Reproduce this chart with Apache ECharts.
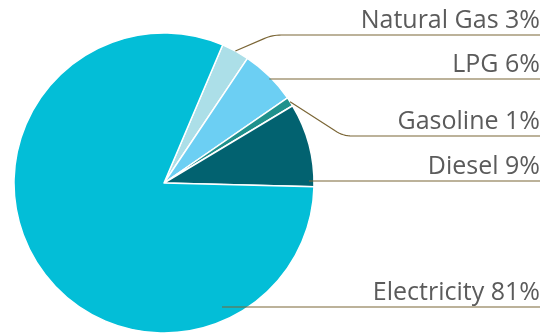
<!DOCTYPE html>
<html>
<head>
<meta charset="utf-8">
<script src="https://cdn.jsdelivr.net/npm/echarts@6/dist/echarts.min.js"></script>
<style>
  html, body { margin: 0; padding: 0; background: #ffffff; }
  #chart { width: 549px; height: 333px; }
</style>
</head>
<body>
<div id="chart"></div>
<script>
// Energy sources, share of total (%)
const categories = ['Natural Gas', 'LPG', 'Gasoline', 'Diesel', 'Electricity'];
const shares = [3, 6, 1, 9, 81];
const sliceColors = ['#acdfe8', '#6ccff3', '#1f918c', '#026270', '#03bed7'];

// Label placement: height of each leader rule, horizontal run of the
// diagonal part (0 = straight rule), right edge of text and rules
const leaderY = [35, 79, 136, 181, 307];
const leaderRun = [37, 0, 53, 0, 0];
const labelRight = 540;
const pieCenter = [164, 183];
const pieRadius = 150;

const chart = echarts.init(document.getElementById('chart'), null, { renderer: 'canvas' });

const sliceData = categories.map((name, i) => ({
  name: name,
  value: shares[i],
  itemStyle: { color: sliceColors[i] }
}));

// same values again, carrying the labels above the filled slices
const labelData = categories.map((name, i) => ({ name: name, value: shares[i] }));

// diagonal leader meeting the horizontal rule with a rounded elbow
function bentLeader(p0, y, run) {
  const c = [p0[0] + run, y];
  const len = Math.hypot(c[0] - p0[0], c[1] - p0[1]);
  const r = 9;
  const a = [c[0] - (c[0] - p0[0]) * r / len, c[1] - (c[1] - p0[1]) * r / len];
  const b = [c[0] + r, y];
  const pts = [[p0[0], p0[1]]];
  for (let k = 0; k <= 8; k++) {
    const t = k / 8, u = 1 - t;
    pts.push([
      u * u * a[0] + 2 * u * t * c[0] + t * t * b[0],
      u * u * a[1] + 2 * u * t * c[1] + t * t * b[1]
    ]);
  }
  pts.push([labelRight, y]);
  return pts;
}

function layoutLabel(params) {
  const i = params.dataIndex;
  const y = leaderY[i];
  const p0 = params.labelLinePoints ? params.labelLinePoints[0] : [pieCenter[0], pieCenter[1]];
  let pts;
  if (leaderRun[i] > 0) {
    pts = bentLeader(p0, y, leaderRun[i]);
  } else if (i === 1) {
    pts = [[p0[0], y], [p0[0] + 1, y], [labelRight, y]];
  } else if (i === 3) {
    const sx = pieCenter[0] + pieRadius - 5;
    pts = [[sx, y], [sx + 1, y], [labelRight, y]];
  } else {
    const sx = pieCenter[0] + 58;
    pts = [[sx, y], [sx + 1, y], [labelRight, y]];
  }
  return {
    x: labelRight,
    y: y - 1,
    align: 'right',
    verticalAlign: 'bottom',
    labelLinePoints: pts
  };
}

const common = {
  type: 'pie',
  center: pieCenter,
  radius: pieRadius,
  startAngle: 67,
  clockwise: true,
  avoidLabelOverlap: false,
  emphasis: { disabled: true },
  silent: true
};

chart.setOption({
  animation: false,
  series: [
    Object.assign({}, common, {
      z: 2,
      data: sliceData,
      itemStyle: { borderColor: '#ffffff', borderWidth: 1.5 },
      label: { show: false },
      labelLine: { show: false }
    }),
    Object.assign({}, common, {
      z: 5,
      data: labelData,
      itemStyle: { color: 'rgba(0,0,0,0)', borderWidth: 0 },
      label: {
        show: true,
        position: 'outside',
        formatter: '{b} {c}%',
        fontFamily: 'Open Sans',
        fontSize: 25,
        lineHeight: 26,
        color: '#5b5b5b'
      },
      labelLine: {
        show: true,
        smooth: false,
        lineStyle: { color: '#7b6636', width: 1.2 }
      },
      labelLayout: layoutLabel
    })
  ]
});
</script>
</body>
</html>
